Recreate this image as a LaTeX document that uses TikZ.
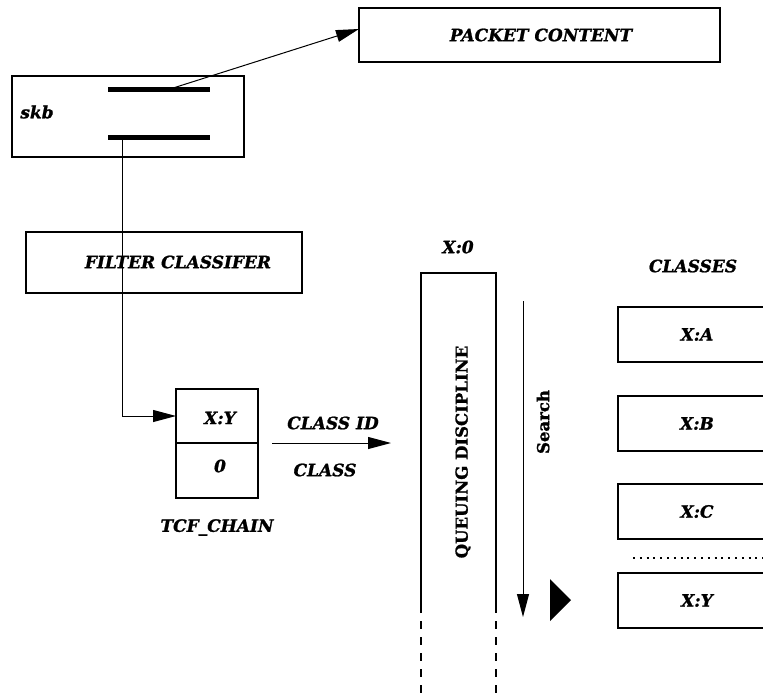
\documentclass[tikz,border=0pt]{standalone}
\usepackage{fontspec}
\setmainfont{DejaVu Serif}
\newfontface\heavyit{DejaVu Serif Bold Italic}[FakeBold=1.2]
\newfontface\heavyup{DejaVu Serif Bold}[FakeBold=1.2]
\usetikzlibrary{arrows.meta, positioning, calc}
\tikzset{
  frame/.style={
    draw,
    line width=1.1pt,
    inner sep=0pt,
    outer sep=0pt,
  },
  tag/.style={
    font=\heavyit\fontsize{17}{20}\selectfont,
    inner sep=0pt
  },
  uptag/.style={
    font=\heavyup\fontsize{16.5}{19}\selectfont,
    inner sep=0pt
  },
  bar/.style={
    fill=black,
    minimum width=102pt,
    minimum height=5pt,
    inner sep=0pt
  },
  arrow/.style={
    -{Triangle[length=23pt,width=12pt]},
    line width=1pt
  }
}

\begin{document}
\begin{tikzpicture}[x=1pt, y=-1pt]
\useasboundingbox (0,0) rectangle (763,694);

% --- skb et contenu du paquet ---
\node[frame, minimum width=232pt, minimum height=81pt] (skb) at (128,116.5) {};
\node[tag] (skbname) at (37,112) {skb};
\node[bar] (head) at (159,89) {};
\node[bar] (data) at (159,137) {};
\coordinate (tap) at (122,137);

\node[frame, minimum width=361pt, minimum height=54pt] (packet) at (539.5,35) {};
\node[tag] (packetname) at (541,35) {PACKET CONTENT};
\draw[arrow] ([xshift=11pt]head.center) -- ($(packet.west)+(0,-6)$);

% --- filtre ---
\node[frame, minimum width=276pt, minimum height=61pt] (filter) at (164,262.5) {};
\node[tag] (filtername) at (178,262) {FILTER CLASSIFER};

% --- tcf chain ---
\node[frame, minimum width=82pt, minimum height=54pt] (xycell) at (217,416) {};
\node[tag] (xyname) at (220,418) {X:Y};
\node[frame, minimum width=82pt, minimum height=55pt, below=0pt of xycell] (zerocell) {};
\node[tag] (zeroname) at (220,466) {0};
\node[tag, below=21pt of zerocell] (tcf) {TCF\_CHAIN};
\draw[arrow] (tap) |- (xycell.west);

\coordinate (idtip) at (391,443);
\draw[arrow] ([xshift=14pt]xycell.south east) -- (idtip);
\node[tag] (classid) at (333,423) {CLASS ID};
\node[tag] (classname) at (325,470) {CLASS};

% --- queuing discipline ---
\draw[line width=1.1pt] (421,613) |- (496,273) -- (496,613);
\draw[line width=1.1pt, dash pattern=on 8pt off 8pt, dash phase=8pt]
    (421,613) -- (421,694) (496,613) -- (496,694);
\node[uptag, rotate=90] (qdisc) at (463,452) {QUEUING DISCIPLINE};
\node[tag] (root) at (458,247) {X:0};

% --- recherche ---
\coordinate (searchtop) at (523,301);
\coordinate (searchend) at (523,617);
\draw[arrow] (searchtop) -- (searchend);
\node[uptag, rotate=90] (searchname) at (543,422) {Search};
\fill (550,579) -- (571,600) -- (550,621) -- cycle;

% --- classes ---
\node[tag] (classes) at (693,266) {CLASSES};
\foreach \name/\ytop in {A/307, B/396, C/484, Y/573} {
  \draw[line width=1.1pt] (763,\ytop) -| (618,\ytop+55) -- (763,\ytop+55);
  \node[tag] (cls\name) at (697,\ytop+27.5) {X:\name};
}
\draw[line width=2pt, dash pattern=on 2pt off 4.8pt] (633,558) -- (763,558);

\end{tikzpicture}
\end{document}
